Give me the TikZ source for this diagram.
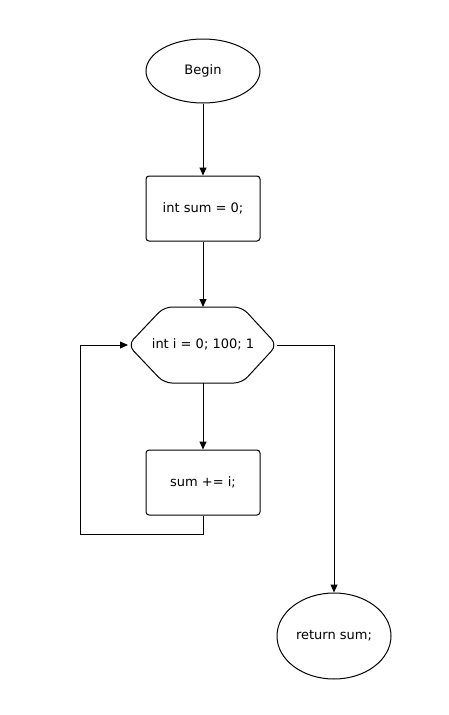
\documentclass[tikz,border=0pt]{standalone}
\usepackage{fontspec}
\setmainfont{DejaVu Sans}
\usetikzlibrary{shapes.geometric,arrows.meta}
\begin{document}
\begin{tikzpicture}[x=1pt,y=-1pt,
  line width=1pt,
  every node/.style={font=\fontsize{13}{15}\selectfont},
  terminal/.style={draw,ellipse,inner sep=0pt},
  process/.style={draw,rounded corners=3pt,minimum width=114pt,minimum height=65pt},
  flow/.style={-{Triangle[length=8pt,width=7pt]}}]
  \useasboundingbox (0,0) rectangle (449,715);

  % start
  \node[terminal,minimum width=114pt,minimum height=64pt] (begin) at (203,71) {Begin};
  % initialisation
  \node[process] (init) at (203,208.5) {int sum = 0;};
  % loop header (hexagon with rounded corners)
  \draw[rounded corners=8pt] (128,345) -- (164,307) -- (242,307) -- (277,345) -- (242,383) -- (164,383) -- cycle;
  \node (loop) at (203,344) {int i = 0; 100; 1};
  \coordinate (loopT) at (203,307);
  \coordinate (loopB) at (203,383);
  \coordinate (loopL) at (128,345);
  \coordinate (loopR) at (277,345);
  % body
  \node[process] (body) at (203,482.5) {sum += i;};
  % end
  \node[terminal,minimum width=114pt,minimum height=86pt] (ret) at (334,636) {return sum;};

  % connectors
  \draw[flow] (begin) -- (init);
  \draw[flow] (init) -- (loopT);
  \draw[flow] (loopB) -- (body);
  \coordinate (bk1) at (203,534);
  \coordinate (bk2) at (80,534);
  \coordinate (bk3) at (80,345);
  \draw[flow] (body.south) -- (bk1) -- (bk2) -- (bk3) -- (loopL);
  \coordinate (ex1) at (334,345);
  \draw[flow] (loopR) -- (ex1) -- (ret.north);
\end{tikzpicture}
\end{document}
